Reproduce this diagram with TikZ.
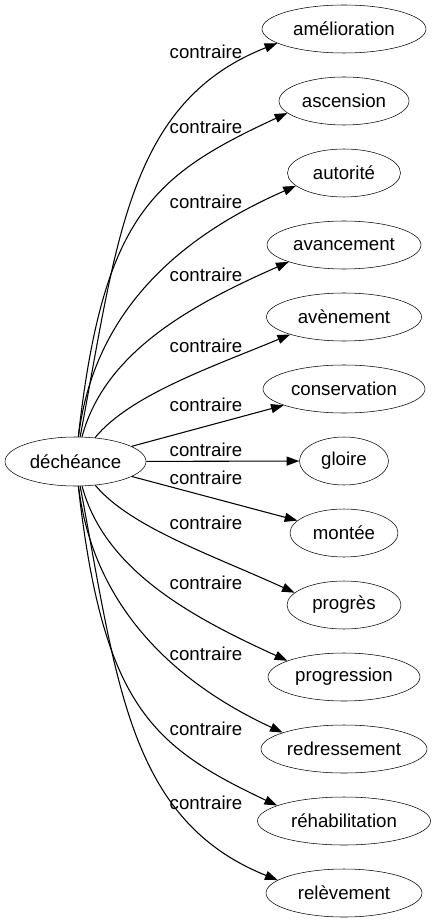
\documentclass[tikz,border=0pt]{standalone}
\usepackage{fontspec}
\setmainfont{Liberation Sans}
\usetikzlibrary{shapes.geometric,arrows.meta}
\tikzset{
  x=0.75pt, y=-0.75pt,
  term/.style={draw, ellipse, inner sep=0pt, minimum height=36pt, font=\fontsize{14pt}{16pt}\selectfont},
  lbl/.style={inner sep=0pt, font=\fontsize{14pt}{16pt}\selectfont},
  edge/.style={draw, line width=0.8pt, -{Triangle[length=9.5pt,width=6.8pt]}}
}
\begin{document}
\begin{tikzpicture}
\useasboundingbox (0,0) rectangle (434,923);
\node[term, minimum width=105.75pt, minimum height=36.75pt] (d) at (75.5,461.5) {déchéance};
\node[term, minimum width=123pt]    (t1)  at (344,29)  {amélioration};
\node[term, minimum width=97.5pt]   (t2)  at (344,101) {ascension};
\node[term, minimum width=84.75pt]  (t3)  at (344,173) {autorité};
\node[term, minimum width=115.5pt]  (t4)  at (344,245) {avancement};
\node[term, minimum width=116.25pt] (t5)  at (344,317) {avènement};
\node[term, minimum width=121.5pt]  (t6)  at (344,389) {conservation};
\node[term, minimum width=66.75pt]  (t7)  at (344,461) {gloire};
\node[term, minimum width=81pt]     (t8)  at (344,533) {montée};
\node[term, minimum width=85.5pt]   (t9)  at (344,605) {progrès};
\node[term, minimum width=114pt]    (t10) at (344,677) {progression};
\node[term, minimum width=124.5pt]  (t11) at (344,749) {redressement};
\node[term, minimum width=129.75pt] (t12) at (344,821) {réhabilitation};
\node[term, minimum width=117pt]    (t13) at (344,893) {relèvement};

\node[lbl] (l1)  at (206,52)  {contraire};
\node[lbl] (l2)  at (206,127) {contraire};
\node[lbl] (l3)  at (206,202) {contraire};
\node[lbl] (l4)  at (206,275) {contraire};
\node[lbl] (l5)  at (206,346) {contraire};
\node[lbl] (l6)  at (206,405) {contraire};
\node[lbl] (l7)  at (206,450) {contraire};
\node[lbl] (l8)  at (206,478) {contraire};
\node[lbl] (l9)  at (206,523) {contraire};
\node[lbl] (l10) at (206,583) {contraire};
\node[lbl] (l11) at (206,654) {contraire};
\node[lbl] (l12) at (206,729) {contraire};
\node[lbl] (l13) at (206,803) {contraire};

\path[edge] (d) .. controls (117,241) and (128,102) .. (t1.192);
\path[edge] (d) .. controls (103,217) and (151,176) .. (t2.192);
\path[edge] (d) .. controls (95,300) and (195,230) .. (t3.195);
\path[edge] (d) .. controls (105,350) and (196,303) .. (t4.197);
\path[edge] (d) .. controls (130,395) and (212,367) .. (t5.198);
\path[edge] (d) -- (t6);
\path[edge] (d) -- (t7);
\path[edge] (d) -- (t8);
\path[edge] (d) .. controls (130,527) and (212,555) .. (t9.166);
\path[edge] (d) .. controls (105,572) and (196,619) .. (t10.164);
\path[edge] (d) .. controls (95,622) and (195,692) .. (t11.165);
\path[edge] (d) .. controls (103,705) and (151,746) .. (t12.167);
\path[edge] (d) .. controls (117,681) and (128,820) .. (t13.169);
\end{tikzpicture}
\end{document}
